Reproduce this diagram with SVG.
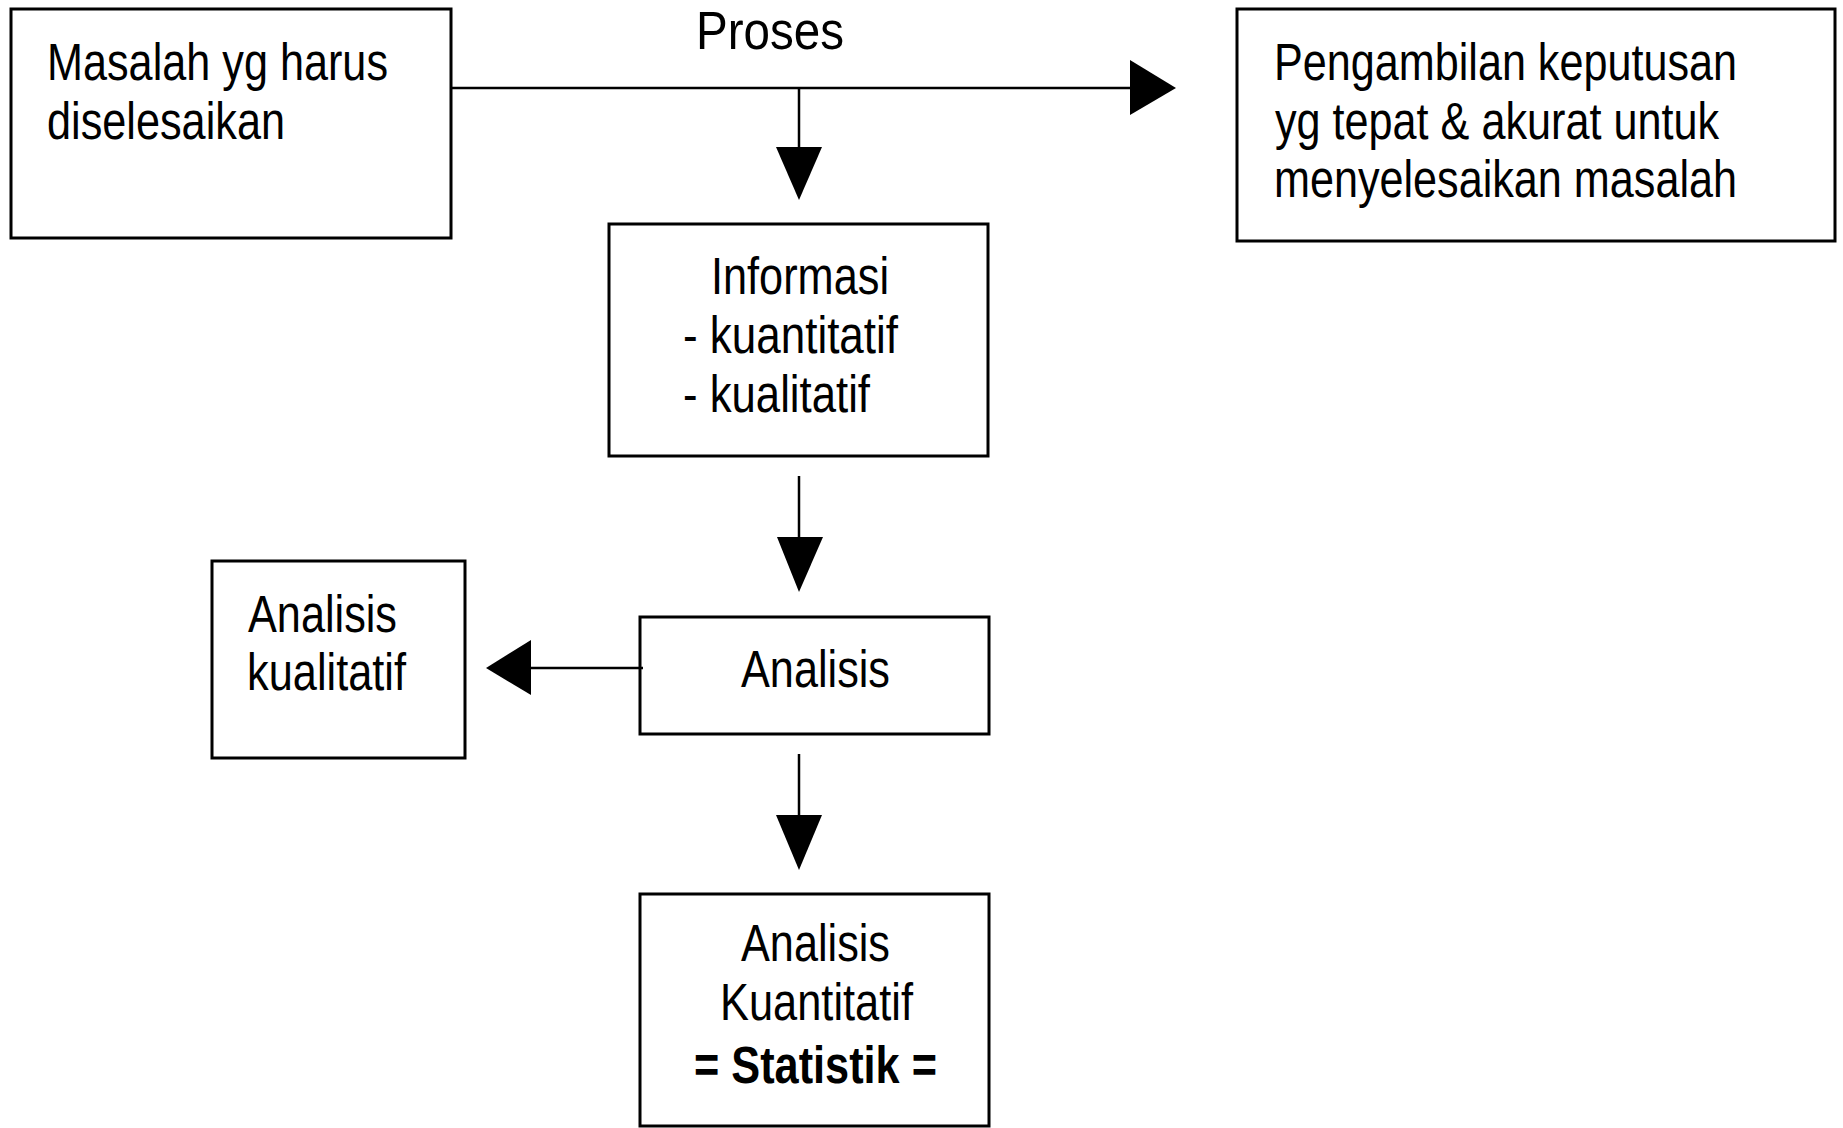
<svg xmlns="http://www.w3.org/2000/svg" width="1843" height="1128" viewBox="0 0 1843 1128">
<style>
.box{fill:#fff;stroke:#000;stroke-width:3}
.t{font-family:"Liberation Sans",Arial,sans-serif;font-size:51px;fill:#000}
.b{font-weight:bold}
.ln{stroke:#000;stroke-width:2.5;fill:none}
.ah{fill:#000;stroke:none}
</style>
<rect width="1843" height="1128" fill="#fff"/>
<g id="masalah">
<rect class="box" x="11" y="9" width="440" height="229"/>
<text class="t" x="47" y="80" textLength="341" lengthAdjust="spacingAndGlyphs">Masalah yg harus</text>
<text class="t" x="47" y="139" textLength="238" lengthAdjust="spacingAndGlyphs">diselesaikan</text>
</g>
<g id="proses-label">
<text class="t" x="696" y="49" style="font-size:54px" textLength="148" lengthAdjust="spacingAndGlyphs">Proses</text>
</g>
<g id="pengambilan">
<rect class="box" x="1237" y="9" width="598" height="232"/>
<text class="t" x="1274" y="80" textLength="463" lengthAdjust="spacingAndGlyphs">Pengambilan keputusan</text>
<text class="t" x="1275" y="139" textLength="444" lengthAdjust="spacingAndGlyphs">yg tepat &amp; akurat untuk</text>
<text class="t" x="1274" y="197" textLength="463" lengthAdjust="spacingAndGlyphs">menyelesaikan masalah</text>
</g>
<g id="informasi">
<rect class="box" x="609" y="224" width="379" height="232"/>
<text class="t" x="711" y="294" textLength="178" lengthAdjust="spacingAndGlyphs">Informasi</text>
<text class="t" x="683" y="353" textLength="215" lengthAdjust="spacingAndGlyphs">- kuantitatif</text>
<text class="t" x="683" y="412" textLength="187" lengthAdjust="spacingAndGlyphs">- kualitatif</text>
</g>
<g id="analisis">
<rect class="box" x="640" y="617" width="349" height="117"/>
<text class="t" x="741" y="687" textLength="149" lengthAdjust="spacingAndGlyphs">Analisis</text>
</g>
<g id="analisis-kualitatif">
<rect class="box" x="212" y="561" width="253" height="197"/>
<text class="t" x="248" y="632" textLength="149" lengthAdjust="spacingAndGlyphs">Analisis</text>
<text class="t" x="247" y="690" textLength="159" lengthAdjust="spacingAndGlyphs">kualitatif</text>
</g>
<g id="analisis-kuantitatif">
<rect class="box" x="640" y="894" width="349" height="232"/>
<text class="t" x="741" y="961" textLength="149" lengthAdjust="spacingAndGlyphs">Analisis</text>
<text class="t" x="720" y="1020" textLength="193" lengthAdjust="spacingAndGlyphs">Kuantitatif</text>
<text class="t b" x="694" y="1083" textLength="243" lengthAdjust="spacingAndGlyphs">= Statistik =</text>
</g>
<g id="connectors">
<line class="ln" x1="451" y1="88" x2="1132" y2="88"/>
<polygon class="ah" points="1130,60 1130,115 1176,88"/>
<line class="ln" x1="799" y1="88" x2="799" y2="149"/>
<polygon class="ah" points="776,147 822,147 799,200"/>
<line class="ln" x1="799" y1="476" x2="799" y2="539"/>
<polygon class="ah" points="777,537 823,537 799,592"/>
<line class="ln" x1="643" y1="668" x2="529" y2="668"/>
<polygon class="ah" points="531,640 531,695 486,668"/>
<line class="ln" x1="799" y1="754" x2="799" y2="817"/>
<polygon class="ah" points="776,815 822,815 799,870"/>
</g>
</svg>
